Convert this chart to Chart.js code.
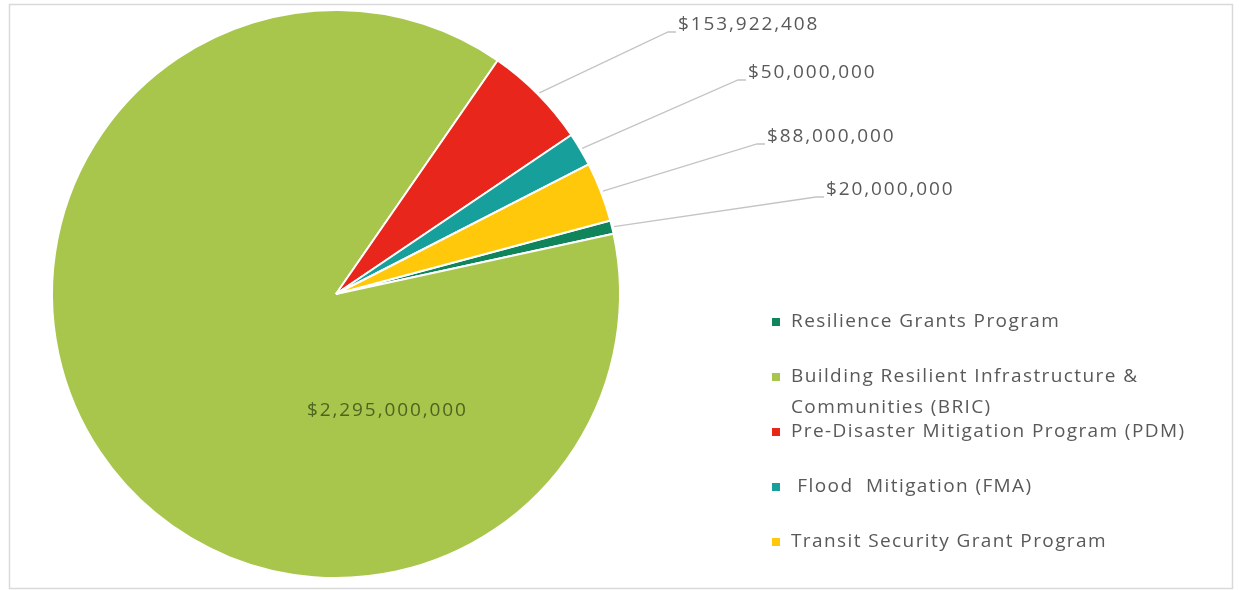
<!DOCTYPE html>
<html>
<head>
<meta charset="utf-8">
<script src="https://cdn.jsdelivr.net/npm/chart.js@4/dist/chart.umd.min.js"></script>
<style>
  html, body { margin: 0; padding: 0; background: #fff; }
  #wrap { position: relative; width: 1239px; height: 590px; }
</style>
</head>
<body>
<div id="wrap"><canvas id="myChart" width="1239" height="590"></canvas></div>
<script>
// grant programs and their funding
var programs = [
  'Resilience Grants Program',
  'Building Resilient Infrastructure & Communities (BRIC)',
  'Pre-Disaster Mitigation Program (PDM)',
  ' Flood  Mitigation (FMA)',
  'Transit Security Grant Program'
];
var amounts = [20000000, 2295000000, 153922408, 50000000, 88000000];
var sliceColors = ['#10845a', '#a8c64b', '#e8261b', '#17a09b', '#ffc80a'];

// where the value labels sit (index -> box left / middle)
var LABEL_POS = {
  0: { x: 826, y: 190, outside: true },
  1: { x: 307, y: 411, outside: false },
  2: { x: 678, y: 25, outside: true },
  3: { x: 748, y: 73, outside: true },
  4: { x: 767, y: 137, outside: true }
};

const FONT = '"Open Sans", sans-serif';

function money(v) {
  return '$' + v.toLocaleString('en-US');
}

// frame round the whole chart
var framePlugin = {
  id: 'frame',
  beforeDraw: function(chart) {
    var c = chart.ctx;
    c.save();
    c.fillStyle = '#fff';
    c.fillRect(0, 0, chart.width, chart.height);
    c.strokeStyle = '#d9d9d9';
    c.lineWidth = 1.5;
    c.strokeRect(9.5, 4.5, 1223, 584);
    c.restore();
  }
};

// value labels with leader lines
var labelPlugin = {
  id: 'valueLabels',
  afterDatasetsDraw: function(chart) {
    var c = chart.ctx;
    var meta = chart.getDatasetMeta(0);
    c.save();
    c.font = '19px ' + FONT;
    c.letterSpacing = '1.9px';
    c.textBaseline = 'middle';
    meta.data.forEach(function(arc, i) {
      var pos = LABEL_POS[i];
      var p = arc.getProps(['x', 'y', 'startAngle', 'endAngle', 'outerRadius'], true);
      if (pos.outside) {
        var mid = (p.startAngle + p.endAngle) / 2;
        var sx = p.x + Math.cos(mid) * (p.outerRadius + 2);
        var sy = p.y + Math.sin(mid) * (p.outerRadius + 2);
        c.strokeStyle = '#c4c4c4';
        c.lineWidth = 1.3;
        c.beginPath();
        c.moveTo(sx, sy);
        c.lineTo(pos.x - 10, pos.y + 7);
        c.lineTo(pos.x - 2, pos.y + 7);
        c.stroke();
        c.fillStyle = '#595959';
      } else {
        c.fillStyle = '#4b6420';
      }
      c.fillText(money(amounts[i]), pos.x, pos.y);
    });
    c.restore();
  }
};

// legend on the right side
var legendPlugin = {
  id: 'sideLegend',
  afterDraw: function(chart) {
    var c = chart.ctx;
    c.save();
    c.font = '19px ' + FONT;
    c.letterSpacing = '1.4px';
    c.textBaseline = 'middle';
    var top = 322, step = 55, lineH = 31, textX = 791, maxW = 440;
    programs.forEach(function(name, i) {
      var y = top + step * i;
      c.fillStyle = sliceColors[i];
      c.fillRect(772, y - 4, 8, 8);
      // wrap long names, keeping the spacing as written
      var words = name.split(' ');
      var lines = [], cur = null;
      words.forEach(function(w) {
        var test = cur === null ? w : cur + ' ' + w;
        if (cur !== null && cur.trim() !== '' && w !== '' && c.measureText(test).width > maxW) {
          lines.push(cur);
          cur = w;
        } else {
          cur = test;
        }
      });
      lines.push(cur);
      c.fillStyle = '#595959';
      lines.forEach(function(l, k) {
        c.fillText(l, textX, y + k * lineH);
      });
    });
    c.restore();
  }
};

var ctx = document.getElementById('myChart').getContext('2d');
var chart = new Chart(ctx, {
  type: 'pie',
  data: {
    labels: programs,
    datasets: [{
      data: amounts,
      backgroundColor: sliceColors,
      borderColor: '#ffffff',
      borderWidth: 2
    }]
  },
  options: {
    responsive: false,
    animation: false,
    rotation: 75,
    layout: { padding: { left: 51, right: 618, top: 9, bottom: 11 } },
    plugins: {
      legend: { display: false },
      tooltip: { enabled: false }
    }
  },
  plugins: [framePlugin, labelPlugin, legendPlugin]
});
</script>
</body>
</html>
